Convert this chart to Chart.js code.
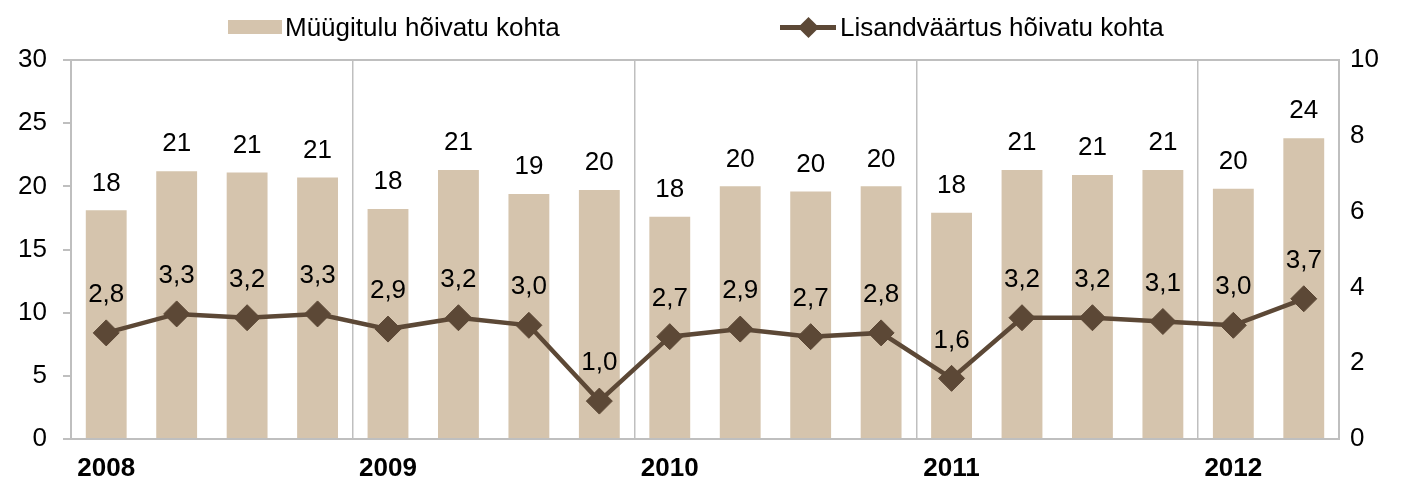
<!DOCTYPE html>
<html>
<head>
<meta charset="utf-8">
<script src="https://cdn.jsdelivr.net/npm/chart.js@4.4.0/dist/chart.umd.min.js"></script>
<style>
    html, body { margin: 0; padding: 0; background: #fff; }
    #wrap { position: relative; width: 1406px; height: 484px; }
    #chart { position: absolute; left: 0; top: 0; }
    .legend { position: absolute; top: 0; left: 0; width: 1406px; height: 56px;
        font-family: 'Liberation Sans', Arial, sans-serif; font-size: 26px; color: #000; }
    .lg-text { position: absolute; top: 12px; height: 30px; line-height: 30px; white-space: nowrap; }
    .sw-bar { position: absolute; left: 228px; top: 20px; width: 54px; height: 14px; background: #D5C4AD; }
    .sw-line { position: absolute; left: 780px; top: 25px; width: 56px; height: 5px; background: #5C4836; }
    .sw-dia { position: absolute; left: 801px; top: 20px; width: 15px; height: 15px; background: #5C4836; transform: rotate(45deg); }
</style>
</head>
<body>
<div id="wrap">
    <canvas id="chart" width="1406" height="484"></canvas>
    <div class="legend">
        <span class="sw-bar"></span>
        <span class="lg-text" style="left:285px">Müügitulu hõivatu kohta</span>
        <span class="sw-line"></span>
        <span class="sw-dia"></span>
        <span class="lg-text" style="left:840px">Lisandväärtus hõivatu kohta</span>
    </div>
</div>
<script>
// --- Data ---
const quarters = [
    '2008 I', '2008 II', '2008 III', '2008 IV',
    '2009 I', '2009 II', '2009 III', '2009 IV',
    '2010 I', '2010 II', '2010 III', '2010 IV',
    '2011 I', '2011 II', '2011 III', '2011 IV',
    '2012 I', '2012 II'
];
const salesPerEmployed = [18.1, 21.2, 21.1, 20.7, 18.2, 21.3, 19.4, 19.7, 17.6, 20.0, 19.6, 20.0, 17.9, 21.3, 20.9, 21.3, 19.8, 23.8];
const valueAddedPerEmployed = [2.8, 3.3, 3.2, 3.3, 2.9, 3.2, 3.0, 1.0, 2.7, 2.9, 2.7, 2.8, 1.6, 3.2, 3.2, 3.1, 3.0, 3.7];
const leftAxis = { min: 0, max: 30, step: 5 };
const rightAxis = { min: 0, max: 10, step: 2 };

const BAR_COLOR = '#D5C4AD';
const LINE_COLOR = '#5C4836';
const AXIS_COLOR = '#BFBFBF';
const FONT = "'Liberation Sans', Arial, sans-serif";

Chart.defaults.font.family = FONT;
Chart.defaults.color = '#000';

// top frame line of the plot area
const frameLine = {
    id: 'frameLine',
    beforeDatasetsDraw(chart) {
        const { ctx, chartArea: a } = chart;
        ctx.save();
        ctx.strokeStyle = AXIS_COLOR;
        ctx.lineWidth = 2;
        ctx.beginPath();
        ctx.moveTo(a.left, a.top);
        ctx.lineTo(a.right, a.top);
        ctx.stroke();
        ctx.restore();
    }
};

// value labels above bars and points
const valueLabels = {
    id: 'valueLabels',
    afterDatasetsDraw(chart) {
        const ctx = chart.ctx;
        ctx.save();
        ctx.font = '26px ' + FONT;
        ctx.fillStyle = '#000';
        ctx.textAlign = 'center';
        ctx.textBaseline = 'middle';
        chart.getDatasetMeta(0).data.forEach((el, i) => {
            ctx.fillText(Math.round(salesPerEmployed[i]).toString(), el.x, el.y - 27);
        });
        chart.getDatasetMeta(1).data.forEach((el, i) => {
            ctx.fillText(valueAddedPerEmployed[i].toFixed(1).replace('.', ','), el.x, el.y - 38);
        });
        ctx.restore();
    }
};

new Chart(document.getElementById('chart'), {
    type: 'bar',
    data: {
        labels: quarters,
        datasets: [
            {
                type: 'bar',
                label: 'Müügitulu hõivatu kohta',
                data: salesPerEmployed,
                backgroundColor: BAR_COLOR,
                yAxisID: 'y',
                categoryPercentage: 1,
                barPercentage: 0.58,
                order: 1
            },
            {
                type: 'line',
                label: 'Lisandväärtus hõivatu kohta',
                data: valueAddedPerEmployed,
                borderColor: LINE_COLOR,
                backgroundColor: LINE_COLOR,
                borderWidth: 4.5,
                pointStyle: 'rectRot',
                pointRadius: 13,
                pointBorderWidth: 1,
                tension: 0,
                yAxisID: 'y1',
                order: 0
            }
        ]
    },
    options: {
        responsive: false,
        animation: false,
        layout: { padding: { top: 60, left: 0, right: 0, bottom: 0 } },
        plugins: { legend: { display: false }, tooltip: { enabled: false } },
        scales: {
            x: {
                offset: true,
                afterFit: s => { s.height = 45; },
                grid: {
                    offset: true,
                    drawTicks: false,
                    lineWidth: 1.5,
                    color: ctx => (ctx.index % 4 === 0 && ctx.index > 0 && ctx.index < quarters.length) ? AXIS_COLOR : 'rgba(0,0,0,0)'
                },
                border: { display: true, color: AXIS_COLOR, width: 2 },
                ticks: {
                    autoSkip: false,
                    maxRotation: 0,
                    padding: 14,
                    font: { size: 26, weight: 'bold' },
                    callback: (v, i) => i % 4 === 0 ? quarters[i].split(' ')[0] : ''
                }
            },
            y: {
                position: 'left',
                min: leftAxis.min,
                max: leftAxis.max,
                afterFit: s => { s.width = 71; },
                grid: { drawOnChartArea: false, drawTicks: true, tickLength: 8, color: AXIS_COLOR, lineWidth: 2 },
                border: { display: true, color: AXIS_COLOR, width: 2 },
                ticks: { stepSize: leftAxis.step, padding: 16, font: { size: 26 } }
            },
            y1: {
                position: 'right',
                min: rightAxis.min,
                max: rightAxis.max,
                afterFit: s => { s.width = 67; },
                grid: { drawOnChartArea: false, drawTicks: false },
                border: { display: true, color: AXIS_COLOR, width: 2 },
                ticks: { stepSize: rightAxis.step, padding: 11, font: { size: 26 } }
            }
        }
    },
    plugins: [frameLine, valueLabels]
});
</script>
</body>
</html>
